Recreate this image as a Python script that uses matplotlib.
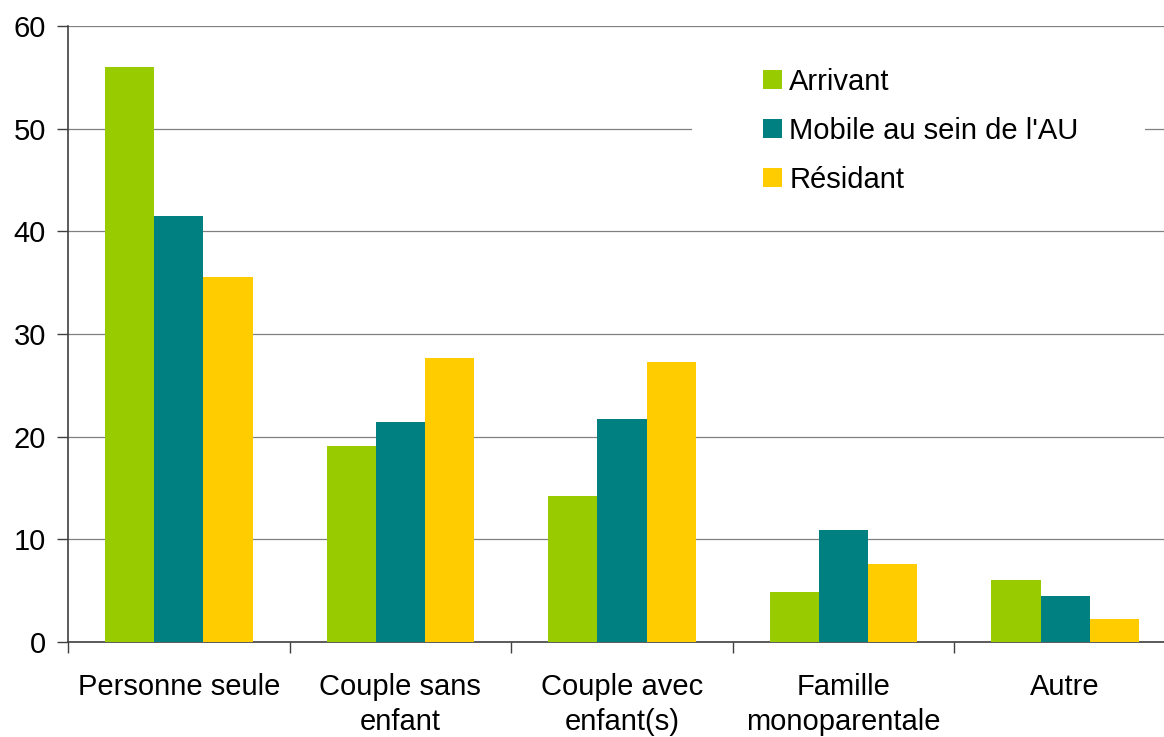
import numpy as np
import matplotlib.pyplot as plt
from matplotlib.ticker import FixedLocator
from matplotlib.patches import Rectangle

plt.rcParams['font.family'] = ['Liberation Sans', 'DejaVu Sans']

# Données
categories = ["Personne seule", "Couple sans\nenfant", "Couple avec\nenfant(s)",
              "Famille\nmonoparentale", "Autre"]
arrivant = [56.0, 19.1, 14.2, 4.9, 6.0]
mobile = [41.5, 21.4, 21.7, 10.9, 4.5]
resident = [35.6, 27.7, 27.3, 7.6, 2.2]
series_names = ["Arrivant", "Mobile au sein de l'AU", "Résidant"]
colors = ["#99CC00", "#008080", "#FFCC00"]

W, H = 1164, 737
fig = plt.figure(figsize=(W / 100, H / 100), dpi=100)
ax = fig.add_axes([68 / W, 95 / H, 1096 / W, 616 / H])

x = np.arange(len(categories))
w = 0.222
for k, (vals, name, c) in enumerate(zip([arrivant, mobile, resident], series_names, colors)):
    ax.bar(x + (k - 1) * w, vals, width=w, color=c, label=name, zorder=3)

ax.set_ylim(0, 60)
ax.set_xlim(-0.5, -0.5 + 1096 / 221.6)
ax.set_yticks(range(0, 61, 10))
ax.yaxis.grid(True, color="#808080", linewidth=0.9, zorder=0)
ax.set_axisbelow(True)

ax.set_xticks(x)
ax.set_xticklabels(categories, fontsize=21, linespacing=1.35)
ax.tick_params(axis='x', which='major', length=0, pad=22)
ax.xaxis.set_minor_locator(FixedLocator(np.arange(-0.5, 5, 1.0)))
ax.tick_params(axis='x', which='minor', length=8, width=1, color="#404040")
ax.tick_params(axis='y', length=8, width=1, color="#404040", labelsize=21, pad=8)

for s in ['top', 'right']:
    ax.spines[s].set_visible(False)
for s in ['left', 'bottom']:
    ax.spines[s].set_color("#404040")
    ax.spines[s].set_linewidth(1.2)

# fond blanc de la légende (masque la grille à 50)
ax.add_patch(Rectangle(((692 - 68) / 1096, (642 - 215) / 616), (1145 - 692) / 1096, 170 / 616,
                       transform=ax.transAxes, facecolor='white', edgecolor='none', zorder=2))

leg = ax.legend(loc='upper left', bbox_to_anchor=((763 - 68) / 1096, (642 - 68) / 616),
                fontsize=21, frameon=False, handlelength=0.65, handleheight=0.65,
                handletextpad=0.25, labelspacing=0.72, borderpad=0, borderaxespad=0)

fig.savefig("out.png", dpi=100)
